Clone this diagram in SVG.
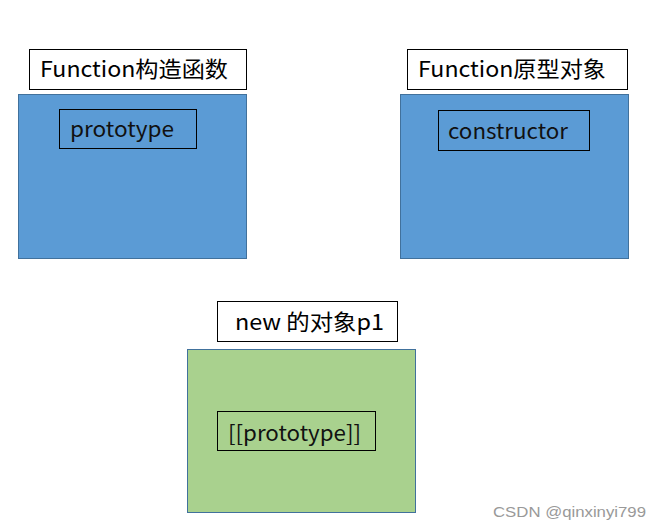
<svg xmlns="http://www.w3.org/2000/svg" width="653" height="528" viewBox="0 0 653 528">
<style>
.lbl{fill:#fff;stroke:#000;stroke-width:1}
.blue{fill:#5B9BD5;stroke:#41719C;stroke-width:1}
.green{fill:#A9D18E;stroke:#41719C;stroke-width:1}
.inner{fill:none;stroke:#000;stroke-width:1}
.t{font-family:"Noto Sans CJK SC","Noto Sans",sans-serif;font-size:22px;fill:#000}
.ti{font-family:"Noto Sans CJK SC","Noto Sans",sans-serif;font-size:21px;fill:#111}
.wm{font-family:"Liberation Sans",Arial,sans-serif;font-size:15px;fill:#999}
</style>
<rect width="653" height="528" fill="#fff"/>
<g id="func-constructor">
<rect class="lbl" x="29.5" y="49.5" width="217" height="40"/>
<text class="t" x="40" y="77" textLength="188" lengthAdjust="spacingAndGlyphs">Function构造函数</text>
<rect class="blue" x="18.5" y="94.5" width="228" height="164"/>
<rect class="inner" x="59.5" y="109.5" width="137" height="39"/>
<text class="ti" x="70" y="137" textLength="104" lengthAdjust="spacingAndGlyphs">prototype</text>
</g>
<g id="func-prototype">
<rect class="lbl" x="407.5" y="49.5" width="220" height="40"/>
<text class="t" x="418" y="77" textLength="188" lengthAdjust="spacingAndGlyphs">Function原型对象</text>
<rect class="blue" x="400.5" y="94.5" width="228" height="164"/>
<rect class="inner" x="438.5" y="110.5" width="151" height="40"/>
<text class="ti" x="448" y="139" textLength="120" lengthAdjust="spacingAndGlyphs">constructor</text>
</g>
<g id="obj-p1">
<rect class="lbl" x="217.5" y="301.5" width="180" height="40"/>
<text class="t" x="235" y="330" textLength="149" lengthAdjust="spacingAndGlyphs">new 的对象p1</text>
<rect class="green" x="187.5" y="349.5" width="228" height="163"/>
<rect class="inner" x="217.5" y="411.5" width="158" height="39"/>
<text class="ti" x="228" y="441" textLength="133" lengthAdjust="spacingAndGlyphs">[[prototype]]</text>
</g>
<g id="connectors"></g>
<text class="wm" x="493" y="517" textLength="153" lengthAdjust="spacingAndGlyphs">CSDN @qinxinyi799</text>
</svg>
